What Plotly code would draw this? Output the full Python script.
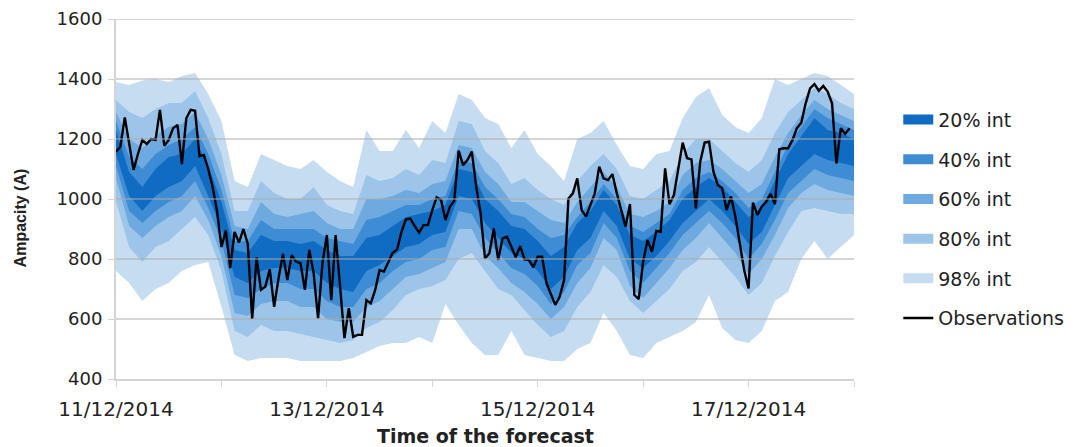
import pandas as pd
import plotly.graph_objects as go

# ---------------------------------------------------------------- data
start = pd.Timestamp("2014-12-11 00:00")

# hourly observed ampacity (A)
obs_hours = list(range(168))
observations = [
    1158, 1174, 1272, 1180, 1097, 1150, 1197, 1183, 1200, 1197, 1297, 1177,
    1197, 1236, 1247, 1116, 1269, 1297, 1294, 1143, 1147, 1100, 1040, 960,
    840, 895, 770, 890, 855, 900, 850, 600, 805, 697, 708, 766,
    641, 736, 817, 730, 813, 791, 786, 697, 830, 752, 602, 786,
    880, 663, 880, 710, 536, 636, 541, 547, 547, 663, 652, 697,
    763, 758, 791, 821, 832, 891, 932, 935, 910, 888, 913, 913,
    963, 1006, 997, 930, 974, 994, 1161, 1113, 1130, 1158, 1041, 952,
    802, 819, 902, 797, 869, 874, 841, 806, 843, 799, 797, 772,
    808, 808, 719, 680, 647, 674, 730, 1002, 1019, 1069, 963, 941,
    980, 1019, 1108, 1069, 1063, 1083, 1019, 963, 908, 983, 680, 666,
    791, 863, 824, 894, 891, 1102, 983, 1013, 1102, 1188, 1136, 1132,
    969, 1124, 1188, 1191, 1091, 1047, 1036, 963, 1008, 941, 852, 763,
    702, 988, 947, 974, 991, 1017, 983, 1166, 1169, 1169, 1197, 1236,
    1254, 1319, 1369, 1383, 1361, 1377, 1358, 1319, 1119, 1236, 1217, 1236,
]

# forecast interval bounds, every 3 hours
band_hours = list(range(0, 169, 3))
upper_98 = [1390, 1380, 1395, 1400, 1390, 1410, 1420, 1350, 1260, 1060, 1040, 1150,
            1130, 1110, 1100, 1130, 1090, 1060, 1040, 1230, 1160, 1160, 1230, 1170,
            1260, 1220, 1350, 1330, 1270, 1250, 1170, 1230, 1150, 1110, 1060, 1200,
            1220, 1260, 1180, 1110, 1100, 1150, 1160, 1270, 1340, 1370, 1280, 1240,
            1220, 1270, 1400, 1380, 1400, 1420, 1410, 1380, 1350]
upper_80 = [1330, 1290, 1270, 1300, 1320, 1320, 1360, 1270, 1150, 960, 960, 1060,
            1020, 1000, 1000, 1040, 980, 960, 950, 1080, 1060, 1070, 1100, 1080,
            1130, 1120, 1260, 1250, 1160, 1120, 1050, 1070, 1030, 1000, 980, 1060,
            1110, 1150, 1100, 1010, 1000, 1030, 1060, 1150, 1200, 1200, 1160, 1120,
            1090, 1130, 1220, 1290, 1330, 1370, 1350, 1320, 1300]
upper_60 = [1290, 1200, 1170, 1210, 1240, 1250, 1290, 1200, 1080, 910, 900, 990,
            950, 940, 950, 960, 920, 900, 900, 1000, 1000, 1010, 1030, 1020,
            1050, 1060, 1180, 1170, 1090, 1050, 990, 990, 960, 930, 920, 990,
            1040, 1090, 1040, 950, 940, 960, 990, 1080, 1120, 1130, 1100, 1060,
            1020, 1050, 1140, 1220, 1280, 1330, 1300, 1280, 1260]
upper_40 = [1260, 1140, 1100, 1150, 1180, 1200, 1240, 1150, 1030, 860, 860, 930,
            900, 900, 900, 900, 870, 860, 850, 930, 940, 960, 980, 980,
            1000, 1010, 1130, 1120, 1040, 1000, 950, 940, 900, 870, 880, 940,
            990, 1050, 1000, 910, 890, 920, 950, 1030, 1070, 1090, 1060, 1020,
            970, 1000, 1090, 1180, 1240, 1300, 1270, 1250, 1230]
upper_20 = [1230, 1090, 1040, 1100, 1140, 1150, 1200, 1110, 990, 830, 820, 880,
            860, 860, 850, 860, 830, 810, 810, 870, 880, 910, 940, 950,
            960, 980, 1100, 1090, 1000, 960, 910, 900, 860, 810, 840, 920,
            960, 1030, 980, 880, 860, 890, 930, 1000, 1040, 1070, 1040, 990,
            940, 970, 1060, 1150, 1210, 1270, 1230, 1220, 1200]
lower_20 = [1150, 1010, 960, 1010, 1040, 1060, 1110, 1010, 900, 740, 720, 760,
            770, 770, 760, 760, 720, 700, 690, 760, 780, 810, 840, 850,
            880, 890, 1010, 1000, 920, 870, 820, 800, 760, 700, 740, 830,
            870, 960, 910, 800, 770, 810, 860, 920, 960, 1000, 960, 910,
            850, 890, 980, 1070, 1110, 1150, 1130, 1120, 1110]
lower_40 = [1110, 960, 920, 960, 990, 1010, 1060, 970, 860, 680, 670, 700,
            720, 720, 700, 700, 660, 640, 640, 700, 720, 760, 790, 800,
            830, 840, 960, 950, 870, 820, 770, 750, 710, 650, 690, 780,
            820, 920, 870, 760, 720, 770, 820, 880, 920, 960, 920, 870,
            800, 850, 930, 1020, 1060, 1100, 1080, 1070, 1060]
lower_60 = [1070, 910, 870, 910, 940, 960, 1010, 930, 810, 620, 610, 650,
            660, 660, 640, 640, 600, 590, 590, 640, 660, 700, 740, 750,
            770, 790, 900, 900, 810, 770, 720, 690, 650, 600, 640, 720,
            770, 870, 830, 710, 670, 720, 770, 830, 870, 920, 870, 820,
            750, 800, 880, 970, 1020, 1050, 1030, 1020, 1010]
lower_80 = [990, 840, 790, 840, 860, 900, 940, 880, 760, 560, 540, 580,
            560, 560, 550, 540, 530, 520, 530, 570, 590, 630, 680, 700,
            710, 730, 800, 820, 760, 700, 680, 630, 580, 540, 560, 640,
            690, 780, 740, 660, 620, 660, 700, 760, 790, 840, 790, 740,
            680, 720, 810, 890, 960, 970, 960, 950, 950]
lower_98 = [760, 720, 660, 700, 720, 760, 780, 790, 640, 480, 460, 470,
            470, 470, 460, 460, 460, 460, 470, 490, 510, 520, 520, 540,
            520, 650, 580, 520, 480, 480, 560, 480, 470, 460, 460, 500,
            520, 620, 560, 480, 470, 520, 540, 560, 590, 680, 570, 530,
            520, 560, 660, 690, 800, 860, 800, 840, 880]

band_labels = ["98% int", "80% int", "60% int", "40% int", "20% int"]
band_lowers = [lower_98, lower_80, lower_60, lower_40, lower_20]
band_uppers = [upper_98, upper_80, upper_60, upper_40, upper_20]
band_colors = ["#C6DDF1", "#9CC5E9", "#6EAADF", "#3E8DD4", "#0F6CC2"]
legend_ranks = [5, 4, 3, 2, 1]

days = list(range(8))
day_labels = ["11/12/2014", "", "13/12/2014", "", "15/12/2014", "", "17/12/2014", ""]
y_ticks = [400, 600, 800, 1000, 1200, 1400, 1600]

# ---------------------------------------------------------------- figure
obs_time = start + pd.to_timedelta(obs_hours, unit="h")
band_time = start + pd.to_timedelta(band_hours, unit="h")
day_time = start + pd.to_timedelta(days, unit="D")

fig = go.Figure()

for label, lo, hi, color, rank in zip(band_labels, band_lowers, band_uppers,
                                      band_colors, legend_ranks):
    fig.add_trace(go.Scatter(
        x=band_time, y=lo, mode="lines", line=dict(width=0, color=color),
        legendgroup=label, showlegend=False, hoverinfo="skip"))
    fig.add_trace(go.Scatter(
        x=band_time, y=hi, mode="lines", line=dict(width=0, color=color),
        fill="tonexty", fillcolor=color, name=label, legendgroup=label,
        showlegend=False))
    # legend key: a solid block in the band colour
    fig.add_trace(go.Scatter(
        x=[None], y=[None], mode="lines", line=dict(width=10, color=color),
        name=label, legendgroup=label, legendrank=rank, hoverinfo="skip"))

fig.add_trace(go.Scatter(
    x=obs_time, y=observations, mode="lines", name="Observations",
    line=dict(color="black", width=2.4), legendgroup="obs", legendrank=6))

# horizontal grid lines drawn over the shaded intervals
for v in y_ticks[1:]:
    fig.add_shape(type="line", xref="paper", x0=0, x1=1, yref="y", y0=v, y1=v,
                  line=dict(color="#ABABAB", width=1), layer="above")

ink = "#222222"
x_tick_font = dict(family="DejaVu Sans", size=20, color=ink)
y_tick_font = dict(family="DejaVu Sans", size=18, color=ink)

# plot area: 116..857 px horizontally, 19..379 px vertically
plot_w, plot_h = 741, 360

fig.update_layout(
    width=1081, height=447,
    margin=dict(l=116, r=224, t=19, b=68),
    paper_bgcolor="white", plot_bgcolor="white",
    font=y_tick_font,
    xaxis=dict(
        type="date", automargin=False,
        range=[day_time[0], day_time[-1]],
        tickmode="array", tickvals=day_time, ticktext=day_labels,
        showgrid=False, zeroline=False,
        showline=True, linecolor="#D4D4D4", linewidth=2,
        ticks="outside", ticklen=6, tickcolor="#D4D4D4", tickwidth=1,
        tickfont=x_tick_font, ticklabelstandoff=5,
    ),
    yaxis=dict(
        automargin=False,
        range=[400, 1600], tickmode="array", tickvals=y_ticks,
        showgrid=False, zeroline=False,
        showline=True, linecolor="#D4D4D4", linewidth=2,
        ticks="outside", ticklen=6, tickcolor="#D4D4D4", tickwidth=1,
        tickfont=y_tick_font, ticklabelstandoff=2,
    ),
    annotations=[
        dict(text="<b>Ampacity (A)</b>", textangle=-90,
             xref="paper", x=(20 - 116) / plot_w, xanchor="center",
             yref="paper", y=(379 - 218) / plot_h, yanchor="middle",
             showarrow=False,
             font=dict(family="Liberation Sans", size=16, color=ink)),
        dict(text="<b>Time of the forecast</b>",
             xref="paper", x=0.5, xanchor="center",
             yref="paper", y=(379 - 436) / plot_h, yanchor="middle",
             showarrow=False,
             font=dict(family="DejaVu Sans", size=19, color=ink)),
    ],
    legend=dict(
        x=1.06, xanchor="left", y=0.773, yanchor="top",
        font=dict(family="DejaVu Sans", size=19, color=ink),
        tracegroupgap=12, bgcolor="rgba(0,0,0,0)",
    ),
    showlegend=True,
)

fig.write_html("out.html")
